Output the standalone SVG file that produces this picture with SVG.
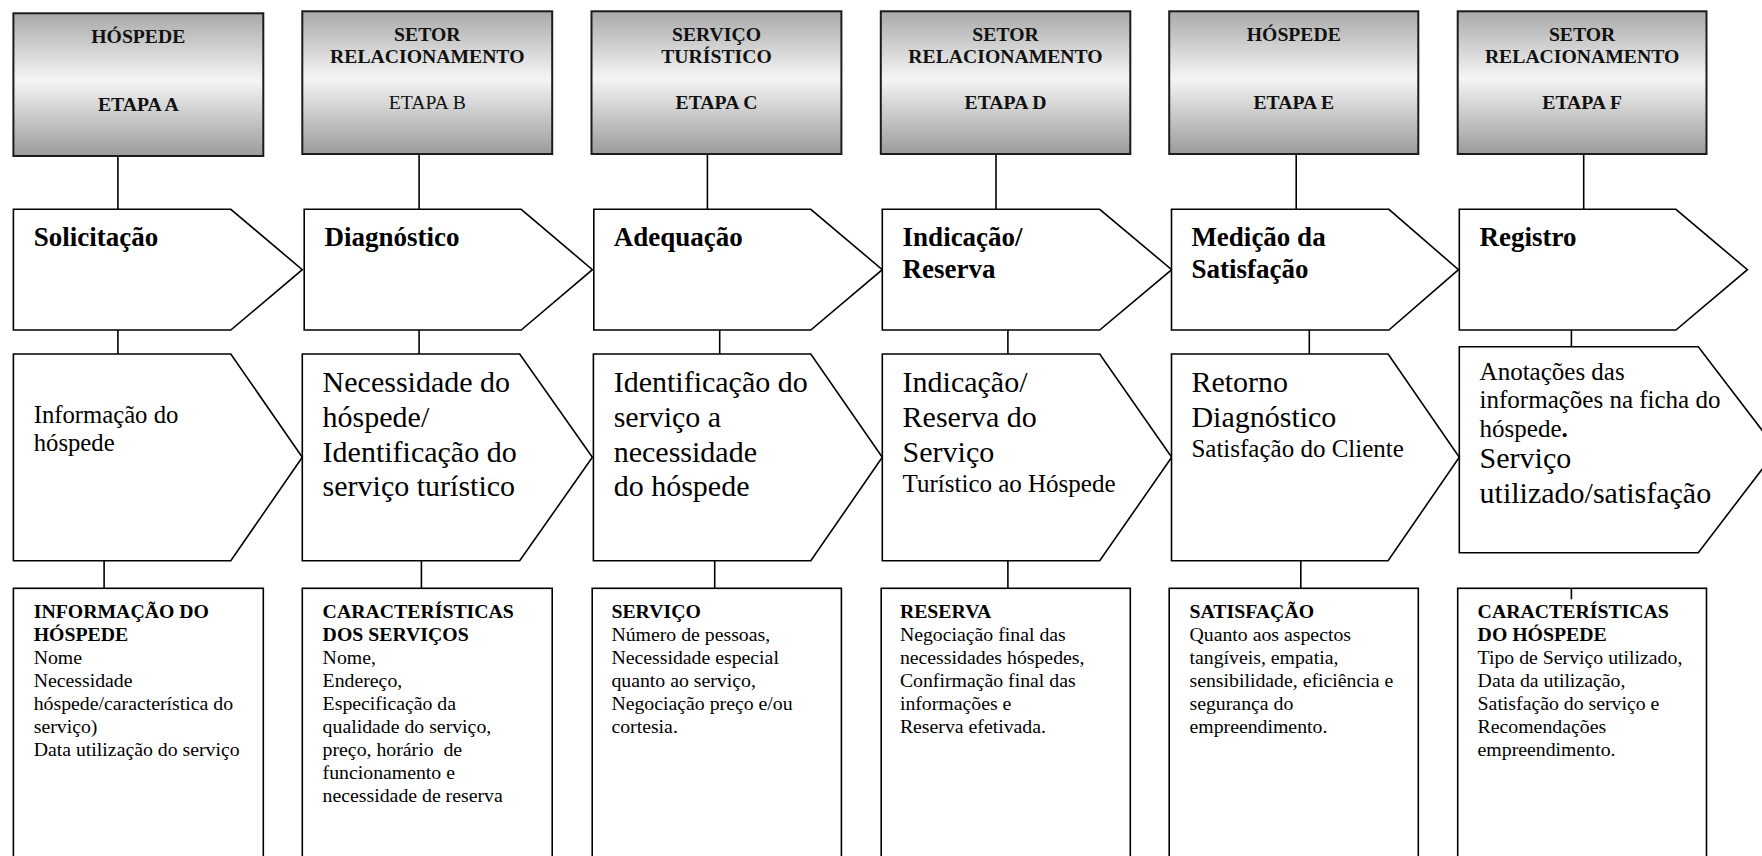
<svg xmlns="http://www.w3.org/2000/svg" width="1762" height="856" viewBox="0 0 1762 856">
<defs>
<linearGradient id="hg" x1="0" y1="0" x2="0" y2="1">
<stop offset="0" stop-color="#a9a9a9"/>
<stop offset="0.47" stop-color="#f5f5f5"/>
<stop offset="1" stop-color="#9b9b9b"/>
</linearGradient>
</defs>
<style>
.hdr{fill:url(#hg);stroke:#1c1c1c;stroke-width:2}
.shp{fill:#fff;stroke:#000;stroke-width:1.6}
.con line{stroke:#000;stroke-width:1.6}
text{font-family:"Liberation Serif","Times New Roman",serif;fill:#000}
.ht{font-size:19.7px;font-weight:bold;text-anchor:middle;fill:#111}
.hn{font-weight:normal}
.tt{font-size:27px;font-weight:bold}
.big{font-size:30px}
.mid{font-size:25px}
.sm{font-size:19.8px}
.b{font-weight:bold}
</style>
<rect width="1762" height="856" fill="#fff"/>

<g id="connectors" class="con">
<line x1="117.9" y1="156" x2="117.9" y2="209.3"/>
<line x1="419.1" y1="154" x2="419.1" y2="209.3"/>
<line x1="707.4" y1="154" x2="707.4" y2="209.3"/>
<line x1="996" y1="154" x2="996" y2="209.3"/>
<line x1="1296.2" y1="154" x2="1296.2" y2="209.3"/>
<line x1="1583.7" y1="154" x2="1583.7" y2="209.3"/>
<line x1="117.9" y1="330" x2="117.9" y2="354"/>
<line x1="419.1" y1="330" x2="419.1" y2="354"/>
<line x1="719.7" y1="330" x2="719.7" y2="354"/>
<line x1="1007.9" y1="330" x2="1007.9" y2="354"/>
<line x1="1309.3" y1="330" x2="1309.3" y2="354"/>
<line x1="1571.4" y1="330" x2="1571.4" y2="346.7"/>
<line x1="104.1" y1="556.7" x2="104.1" y2="588.3"/>
<line x1="421.4" y1="558.3" x2="421.4" y2="588.3"/>
<line x1="714.7" y1="560.7" x2="714.7" y2="588.3"/>
<line x1="1007.9" y1="560.7" x2="1007.9" y2="588.3"/>
<line x1="1300.8" y1="560.7" x2="1300.8" y2="588.3"/>
</g>

<g id="hdrA"><rect class="hdr" x="13.4" y="13.3" width="249.9" height="142.7"/>
<text class="ht" x="138.3" y="43.3">HÓSPEDE</text><text class="ht" x="138.3" y="111">ETAPA A</text></g>
<g id="hdrB"><rect class="hdr" x="302.3" y="11.3" width="249.9" height="142.7"/>
<text class="ht" x="427.3" y="40.7">SETOR</text><text class="ht" x="427.3" y="63.3">RELACIONAMENTO</text><text class="ht hn" x="427.3" y="109.3">ETAPA B</text></g>
<g id="hdrC"><rect class="hdr" x="591.5" y="11.3" width="249.9" height="142.7"/>
<text class="ht" x="716.5" y="40.7">SERVIÇO</text><text class="ht" x="716.5" y="63.3">TURÍSTICO</text><text class="ht" x="716.5" y="109.3">ETAPA C</text></g>
<g id="hdrD"><rect class="hdr" x="880.8" y="11.3" width="249.5" height="142.7"/>
<text class="ht" x="1005.5" y="40.7">SETOR</text><text class="ht" x="1005.5" y="63.3">RELACIONAMENTO</text><text class="ht" x="1005.5" y="109.3">ETAPA D</text></g>
<g id="hdrE"><rect class="hdr" x="1169.2" y="11.3" width="249.1" height="142.7"/>
<text class="ht" x="1293.8" y="40.7">HÓSPEDE</text><text class="ht" x="1293.8" y="109.3">ETAPA E</text></g>
<g id="hdrF"><rect class="hdr" x="1457.7" y="11.3" width="248.8" height="142.7"/>
<text class="ht" x="1582.1" y="40.7">SETOR</text><text class="ht" x="1582.1" y="63.3">RELACIONAMENTO</text><text class="ht" x="1582.1" y="109.3">ETAPA F</text></g>

<g id="stepA"><polygon class="shp" points="13.4,209.3 230.8,209.3 302.3,269.7 230.8,330 13.4,330"/>
<text class="tt" x="33.7" y="246">Solicitação</text></g>
<g id="stepB"><polygon class="shp" points="304.2,209.3 521.2,209.3 592.4,269.7 521.2,330 304.2,330"/>
<text class="tt" x="324.5" y="246">Diagnóstico</text></g>
<g id="stepC"><polygon class="shp" points="593.8,209.3 810.8,209.3 882.3,269.7 810.8,330 593.8,330"/>
<text class="tt" x="613.7" y="246">Adequação</text></g>
<g id="stepD"><polygon class="shp" points="882.3,209.3 1099.7,209.3 1171.7,269.7 1099.7,330 882.3,330"/>
<text class="tt" x="902.6" y="246">Indicação/</text><text class="tt" x="902.6" y="277.7">Reserva</text></g>
<g id="stepE"><polygon class="shp" points="1171.5,209.3 1388.9,209.3 1458.5,269.7 1388.9,330 1171.5,330"/>
<text class="tt" x="1191.4" y="246">Medição da</text><text class="tt" x="1191.4" y="277.7">Satisfação</text></g>
<g id="stepF"><polygon class="shp" points="1459.3,209.3 1675.9,209.3 1747.4,269.7 1675.9,330 1459.3,330"/>
<text class="tt" x="1479.6" y="246">Registro</text></g>

<g id="descA"><polygon class="shp" points="13.4,354 230.8,354 302.3,457.3 230.8,560.7 13.4,560.7"/>
<text class="mid" x="33.7" y="422.7" style="font-size:24.7px">Informação do</text><text x="33.7" y="451" style="font-size:24.7px">hóspede</text></g>
<g id="descB"><polygon class="shp" points="302.3,354 519.7,354 592.4,457.3 519.7,560.7 302.3,560.7"/>
<text class="big" x="322.6" y="391.7">Necessidade do</text><text class="big" x="322.6" y="426.7">hóspede/</text><text class="big" x="322.6" y="461.7">Identificação do</text><text class="big" x="322.6" y="496">serviço turístico</text></g>
<g id="descC"><polygon class="shp" points="593.4,354 810.8,354 882.3,457.3 810.8,560.7 593.4,560.7"/>
<text class="big" x="613.7" y="391.7">Identificação do</text><text class="big" x="613.7" y="426.7">serviço a</text><text class="big" x="613.7" y="461.7">necessidade</text><text class="big" x="613.7" y="496">do hóspede</text></g>
<g id="descD"><polygon class="shp" points="882.3,354 1099.7,354 1171.7,457.3 1099.7,560.7 882.3,560.7"/>
<text class="big" x="902.6" y="391.7">Indicação/</text><text class="big" x="902.6" y="426.7">Reserva do</text><text class="big" x="902.6" y="461.7">Serviço</text><text class="mid" x="902.6" y="491.7">Turístico ao Hóspede</text></g>
<g id="descE"><polygon class="shp" points="1171.5,354 1388.1,354 1459.3,457.3 1388.1,560.7 1171.5,560.7"/>
<text class="big" x="1191.4" y="391.7">Retorno</text><text class="big" x="1191.4" y="426.7">Diagnóstico</text><text class="mid" x="1191.4" y="456.7">Satisfação do Cliente</text></g>
<g id="descF"><polygon class="shp" points="1459.3,346.7 1698.3,346.7 1777,449.7 1698.3,552.7 1459.3,552.7"/>
<text class="mid" x="1479.6" y="380">Anotações das</text><text class="mid" x="1479.6" y="408.3">informações na ficha do</text><text class="mid" x="1479.6" y="436.7">hóspede<tspan class="b">.</tspan></text><text class="big" x="1479.6" y="468.3">Serviço</text><text class="big" x="1479.6" y="503.3">utilizado/satisfação</text></g>

<g id="infoA"><rect class="shp" x="13.4" y="588.3" width="249.9" height="290"/>
<text class="sm" x="33.7" y="618.3"><tspan class="b">INFORMAÇÃO DO</tspan><tspan class="b" x="33.7" dy="23">HÓSPEDE</tspan><tspan x="33.7" dy="23">Nome</tspan><tspan x="33.7" dy="23">Necessidade</tspan><tspan x="33.7" dy="23">hóspede/característica do</tspan><tspan x="33.7" dy="23">serviço)</tspan><tspan x="33.7" dy="23">Data utilização do serviço</tspan></text></g>
<g id="infoB"><rect class="shp" x="302.3" y="588.3" width="249.9" height="290"/>
<text class="sm" x="322.6" y="618.3"><tspan class="b">CARACTERÍSTICAS</tspan><tspan class="b" x="322.6" dy="23">DOS SERVIÇOS</tspan><tspan x="322.6" dy="23">Nome,</tspan><tspan x="322.6" dy="23">Endereço,</tspan><tspan x="322.6" dy="23">Especificação da</tspan><tspan x="322.6" dy="23">qualidade do serviço,</tspan><tspan x="322.6" dy="23" xml:space="preserve">preço, horário  de</tspan><tspan x="322.6" dy="23">funcionamento e</tspan><tspan x="322.6" dy="23">necessidade de reserva</tspan></text></g>
<g id="infoC"><rect class="shp" x="592.2" y="588.3" width="249.2" height="290"/>
<text class="sm" x="611.4" y="618.3"><tspan class="b">SERVIÇO</tspan><tspan x="611.4" dy="23">Número de pessoas,</tspan><tspan x="611.4" dy="23">Necessidade especial</tspan><tspan x="611.4" dy="23">quanto ao serviço,</tspan><tspan x="611.4" dy="23">Negociação preço e/ou</tspan><tspan x="611.4" dy="23">cortesia.</tspan></text></g>
<g id="infoD"><rect class="shp" x="881.2" y="588.3" width="249.1" height="290"/>
<text class="sm" x="899.9" y="618.3"><tspan class="b">RESERVA</tspan><tspan x="899.9" dy="23">Negociação final das</tspan><tspan x="899.9" dy="23">necessidades hóspedes,</tspan><tspan x="899.9" dy="23">Confirmação final das</tspan><tspan x="899.9" dy="23">informações e</tspan><tspan x="899.9" dy="23">Reserva efetivada.</tspan></text></g>
<g id="infoE"><rect class="shp" x="1169.2" y="588.3" width="249.1" height="290"/>
<text class="sm" x="1189.5" y="618.3"><tspan class="b">SATISFAÇÃO</tspan><tspan x="1189.5" dy="23">Quanto aos aspectos</tspan><tspan x="1189.5" dy="23">tangíveis, empatia,</tspan><tspan x="1189.5" dy="23">sensibilidade, eficiência e</tspan><tspan x="1189.5" dy="23">segurança do</tspan><tspan x="1189.5" dy="23">empreendimento.</tspan></text></g>
<g id="infoF"><rect class="shp" x="1457.7" y="588.3" width="248.8" height="290"/>
<line x1="1571.4" y1="588.3" x2="1571.4" y2="599.3" stroke="#000" stroke-width="1.6"/>
<text class="sm" x="1477.6" y="618.3"><tspan class="b">CARACTERÍSTICAS</tspan><tspan class="b" x="1477.6" dy="23">DO HÓSPEDE</tspan><tspan x="1477.6" dy="23">Tipo de Serviço utilizado,</tspan><tspan x="1477.6" dy="23">Data da utilização,</tspan><tspan x="1477.6" dy="23">Satisfação do serviço e</tspan><tspan x="1477.6" dy="23">Recomendações</tspan><tspan x="1477.6" dy="23">empreendimento.</tspan></text></g>
</svg>
